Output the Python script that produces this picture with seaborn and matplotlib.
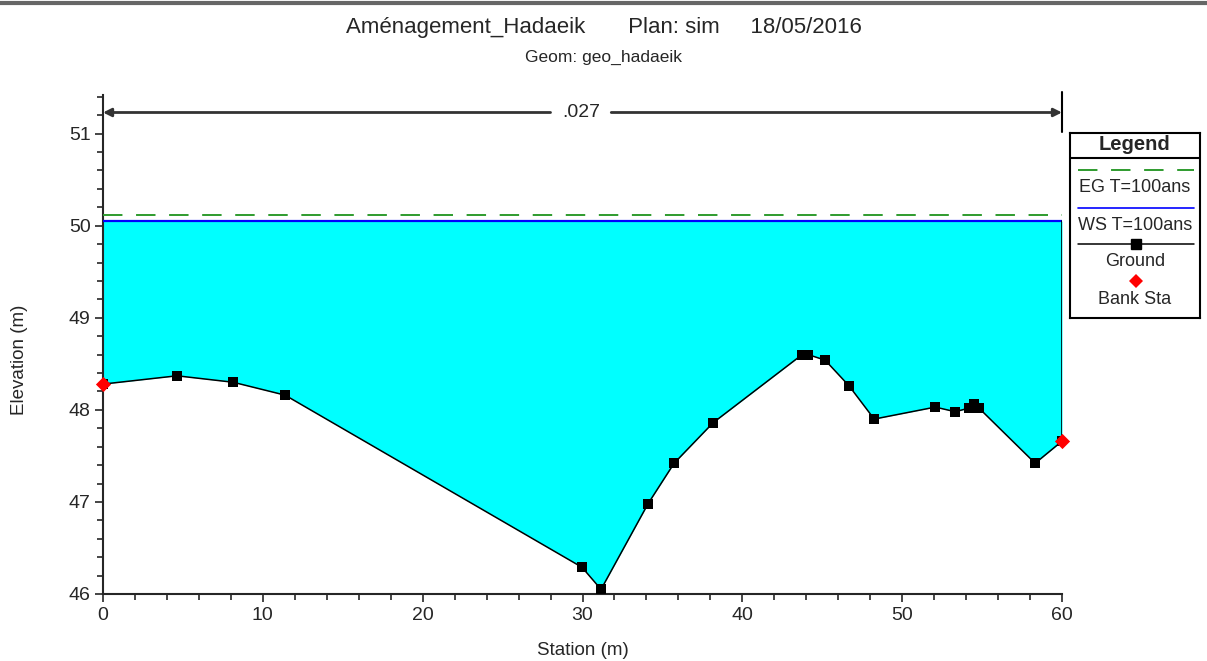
import numpy as np
import pandas as pd
import matplotlib
matplotlib.use("Agg")
import matplotlib.pyplot as plt
from matplotlib.ticker import MultipleLocator
from matplotlib.lines import Line2D
import seaborn as sns

# Cross-section ground profile
station = [0.0, 4.63, 8.14, 11.39, 29.97, 31.16, 34.1, 35.73, 38.17, 43.74, 44.12,
           45.18, 46.68, 48.25, 52.07, 53.32, 54.2, 54.5, 54.8, 58.32, 60.0]
ground = [48.28, 48.37, 48.30, 48.16, 46.29, 46.05, 46.98, 47.42, 47.86, 48.60, 48.60,
          48.54, 48.26, 47.90, 48.03, 47.98, 48.02, 48.06, 48.02, 47.42, 47.66]

bank_station = [0.0, 60.0]
bank_elev = [48.28, 47.66]

ws_elev = 50.05   # WS T=100ans
eg_elev = 50.12   # EG T=100ans
manning_n = ".027"

title = "Aménagement_Hadaeik       Plan: sim     18/05/2016"
subtitle = "Geom: geo_hadaeik"

df = pd.DataFrame({"Station": station, "Elevation": ground})
banks = pd.DataFrame({"Station": bank_station, "Elevation": bank_elev})

sns.set_style("ticks")
plt.rcParams["font.family"] = ["Liberation Sans", "DejaVu Sans"]

fig = plt.figure(figsize=(12.07, 6.61), dpi=100)
ax = fig.add_axes([103 / 1207, 67 / 661, 959 / 1207, 499 / 661])

# water area between ground and water surface
ax.fill_between(df["Station"], df["Elevation"], ws_elev, color="#00FFFF", lw=0, zorder=1)
ax.plot([0, 60], [ws_elev, ws_elev], color="#0000FF", lw=1.6, zorder=3)
ax.plot([0, 60], [eg_elev, eg_elev], color="#2E9B2E", lw=1.4, dashes=(10, 7), zorder=3)
ax.plot([60, 60], [bank_elev[1], ws_elev], color="black", lw=1.2, zorder=3)

sns.lineplot(data=df, x="Station", y="Elevation", color="black", lw=1.1,
             marker="s", markersize=7, markeredgewidth=0, sort=False, ax=ax, zorder=4)
sns.scatterplot(data=banks, x="Station", y="Elevation", color="red", marker="D",
                s=60, linewidth=0, ax=ax, zorder=5, clip_on=False)

ax.set_xlim(0, 60)
ax.set_ylim(46, 51.42)
ax.xaxis.set_major_locator(MultipleLocator(10))
ax.xaxis.set_minor_locator(MultipleLocator(2))
ax.yaxis.set_major_locator(MultipleLocator(1))
ax.yaxis.set_minor_locator(MultipleLocator(0.2))
ax.tick_params(which="major", length=6, width=1.2, labelsize=14, pad=3)
ax.tick_params(which="minor", length=4, width=1.2)
for side in ("top", "right"):
    ax.spines[side].set_visible(False)
for side in ("left", "bottom"):
    ax.spines[side].set_linewidth(1.5)
ax.set_yticks([46, 47, 48, 49, 50, 51])
ax.set_xlabel("Station (m)", fontsize=13.5)
ax.set_ylabel("Elevation (m)", fontsize=13.5)
ax.xaxis.set_label_coords(0.5, -0.097)
ax.yaxis.set_label_coords(-0.078, 0.469)

# Manning's n span
ny = 51.23
ax.annotate("", xy=(0, ny), xytext=(28.0, ny),
            arrowprops=dict(arrowstyle="-|>", color="#333333", lw=2.0,
                            mutation_scale=12, shrinkA=0, shrinkB=0),
            annotation_clip=False)
ax.annotate("", xy=(60, ny), xytext=(31.8, ny),
            arrowprops=dict(arrowstyle="-|>", color="#333333", lw=2.0,
                            mutation_scale=12, shrinkA=0, shrinkB=0),
            annotation_clip=False)
ax.text(29.9, ny, manning_n, ha="center", va="center", fontsize=14)
ax.plot([60, 60], [51.02, 51.45], color="black", lw=1.5, clip_on=False)

fig.text(0.5, 1 - 27 / 661, title, ha="center", va="center", fontsize=16)
fig.text(0.5, 1 - 57 / 661, subtitle, ha="center", va="center", fontsize=12.5)
fig.add_artist(Line2D([0, 1], [1 - 3 / 661, 1 - 3 / 661], color="#666666", lw=3))

# Legend panel
lg = fig.add_axes([1070 / 1207, 343 / 661, 130 / 1207, 185 / 661])
lg.set_xlim(0, 130)
lg.set_ylim(185, 0)
lg.set_xticks([])
lg.set_yticks([])
for s in lg.spines.values():
    s.set_linewidth(1.5)
    s.set_color("black")
lg.axhline(25, color="black", lw=1.5)
lg.text(65, 12, "Legend", ha="center", va="center", fontsize=14.5, fontweight="bold")
lg.plot([8, 124], [37, 37], color="#2E9B2E", lw=1.4, dashes=(10, 7))
lg.text(65, 54, "EG T=100ans", ha="center", va="center", fontsize=13)
lg.plot([8, 124], [75, 75], color="#0000FF", lw=1.2)
lg.text(65, 92, "WS T=100ans", ha="center", va="center", fontsize=13)
lg.plot([8, 124], [111, 111], color="black", lw=1.1)
lg.plot([66], [111], marker="s", color="black", markersize=7)
lg.text(65, 129, "Ground", ha="center", va="center", fontsize=13)
lg.plot([66], [148], marker="D", color="red", markersize=7, markeredgewidth=0)
lg.text(65, 166, "Bank Sta", ha="center", va="center", fontsize=13)

fig.savefig("out.png", dpi=100)
